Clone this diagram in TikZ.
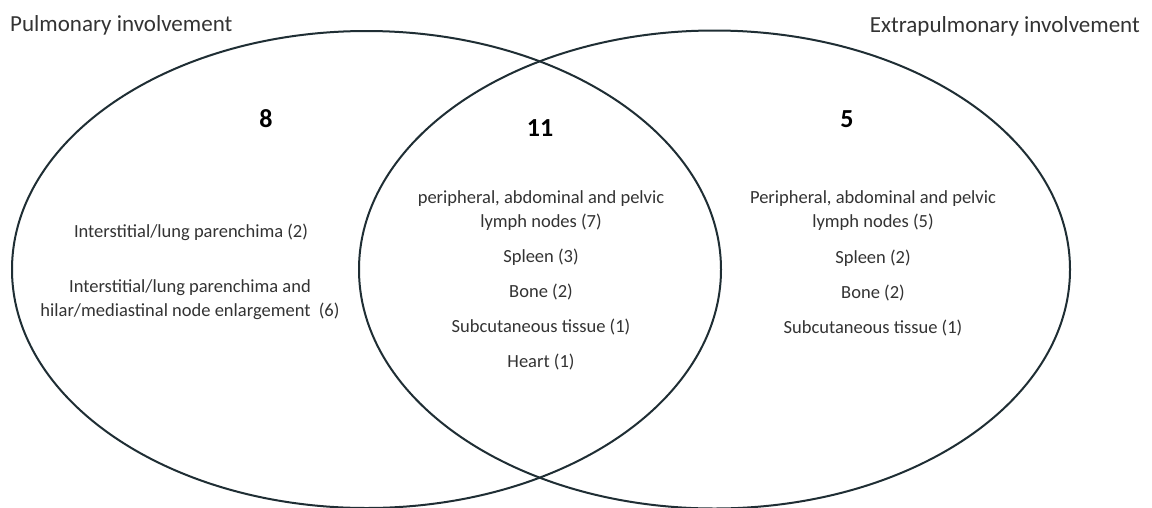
\documentclass[tikz,border=0pt]{standalone}
\usepackage{fontspec}
\setmainfont{Carlito}
\definecolor{linecol}{HTML}{1F2E34}
\definecolor{txtcol}{HTML}{333333}
\tikzset{
  setline/.style={draw=linecol, line width=2pt},
  title/.style={font=\fontsize{23}{27}\selectfont, text=txtcol, inner sep=0pt},
  count/.style={font=\fontsize{26}{30}\selectfont\bfseries, text=black, inner sep=0pt},
  item/.style={font=\fontsize{18.5}{24}\selectfont, text=txtcol, align=center, inner sep=0pt},
}
\begin{document}
\begin{tikzpicture}[x=1pt,y=-1pt]
\useasboundingbox (0,0) rectangle (1152,507);
\fill[white] (0,0) rectangle (1152,507);
\draw[setline] (366.5,269.5) ellipse [x radius=354.5, y radius=238.5];
\draw[setline] (714.5,269.5) ellipse [x radius=355.5, y radius=239];
\node[title, anchor=base west] (tl) at (10,31) {Pulmonary involvement};
\node[title, anchor=base east] (tr) at (1140,32) {Extrapulmonary involvement};
\node[count] (n8) at (266,119) {8};
\node[count] (n11) at (540,128) {11};
\node[count] (n5) at (847,119) {5};
\node[item] (l1) at (191,232) {Interstitial/lung parenchima (2)};
\node[item] (l2) at (190,300) {Interstitial/lung parenchima and\\hilar/mediastinal node enlargement\ \ (6)};
\node[item] (m1) at (541,211) {peripheral, abdominal and pelvic\\lymph nodes (7)};
\node[item] (m2) at (541,257) {Spleen (3)};
\node[item] (m3) at (541,292) {Bone (2)};
\node[item] (m4) at (541,327) {Subcutaneous tissue (1)};
\node[item] (m5) at (541,362) {Heart (1)};
\node[item] (r1) at (873,210.5) {Peripheral, abdominal and pelvic\\lymph nodes (5)};
\node[item] (r2) at (873,258) {Spleen (2)};
\node[item] (r3) at (873,293) {Bone (2)};
\node[item] (r4) at (873,328) {Subcutaneous tissue (1)};
\end{tikzpicture}
\end{document}
